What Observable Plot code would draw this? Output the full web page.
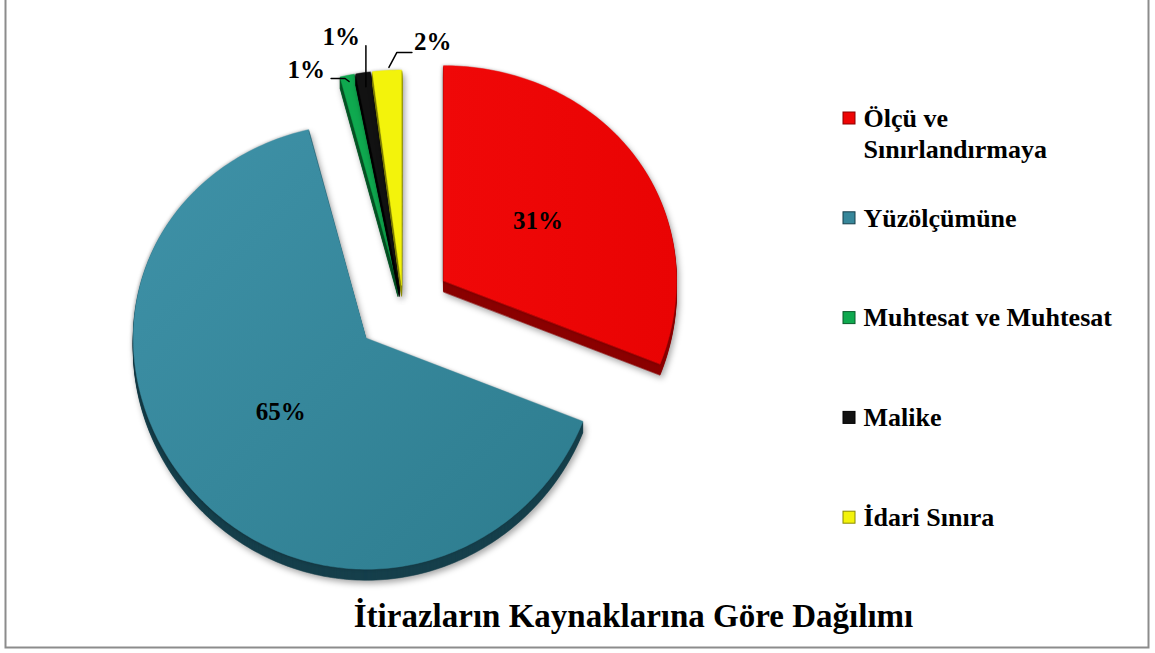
<!DOCTYPE html>
<html><head><meta charset="utf-8">
<script src="https://cdn.jsdelivr.net/npm/d3@7"></script>
<script src="https://cdn.jsdelivr.net/npm/@observablehq/plot@0.6"></script>
<style>
body{margin:0;background:#fff;}
#chart svg{display:block;}
g[aria-description="slice-side"]{filter:drop-shadow(2px 3px 3px rgba(0,0,0,0.35));}
g[aria-description="slice-top"]{filter:drop-shadow(-1px 0px 1.5px rgba(0,0,0,0.25));}
</style>
</head><body><div id="chart"></div>
<script>
// ---- data ----
const categories = ["Ölçü ve Sınırlandırmaya", "Yüzölçümüne", "Muhtesat ve Muhtesat", "Malike", "İdari Sınıra"];
const shares = [31, 65, 1, 1, 2];
const pctLabels = ["31%", "65%", "1%", "1%", "2%"];
const colors = ["#ee0505", "#37879a", "#0fa94f", "#121212", "#f3f30b"];
const sideColors = ["#8b0000", "#163f4b", "#085c2a", "#000000", "#8a8a00"];
const explode = [0.21, 0.21, 0.10, 0.10, 0.10];
const title = "İtirazların Kaynaklarına Göre Dağılımı";

// ---- layout ----
const W = 1155, H = 653;
const pie = {cx: 402.5, cy: 306, rx: 233, ryMid: 223, ryPersp: 8, depth: 11};
const font = "Liberation Serif, Times New Roman, serif";
const ryAt = a => pie.ryMid - pie.ryPersp * Math.cos(a);

const total = d3.sum(shares);
let acc = 0;
const slices = shares.map((v, i) => {
  const a0 = acc / total * 2 * Math.PI; acc += v;
  const a1 = acc / total * 2 * Math.PI;
  const mid = (a0 + a1) / 2;
  const ax = pie.cx + explode[i] * pie.rx * Math.sin(mid);
  const ay = pie.cy - explode[i] * ryAt(mid) * Math.cos(mid);
  return {i, a0, a1, mid, ax, ay};
});
const px = (s, a, f = 1) => s.ax + f * pie.rx * Math.sin(a);
const py = (s, a, f = 1) => s.ay - f * ryAt(a) * Math.cos(a);
function ring(s, dy, z) {
  const pts = [{x: s.ax, y: s.ay + dy, z}];
  const n = Math.max(2, Math.ceil((s.a1 - s.a0) / (Math.PI / 180)));
  for (let k = 0; k <= n; k++) {
    const a = s.a0 + (s.a1 - s.a0) * k / n;
    pts.push({x: px(s, a), y: py(s, a) + dy, z});
  }
  return pts;
}
const topFill = ["url(#gRed)", "url(#gTeal)", colors[2], colors[3], colors[4]];
const drawOrder = [2, 3, 4, 0, 1];
const pieMarks = [];
for (const i of drawOrder) {
  const s = slices[i];
  const sides = [];
  for (let k = pie.depth; k >= 1; k--) sides.push(...ring(s, k, k));
  pieMarks.push(Plot.line(sides, {x: "x", y: "y", z: "z", fill: sideColors[i], stroke: sideColors[i], strokeWidth: 0.6, curve: "linear-closed", ariaDescription: "slice-side"}));
  pieMarks.push(Plot.line(ring(s, 0, 0), {x: "x", y: "y", fill: topFill[i], stroke: topFill[i], strokeWidth: 0.5, curve: "linear-closed", ariaDescription: "slice-top"}));
}

// inside labels for large slices
const inner = slices.filter(s => shares[s.i] >= 10).map(s => ({
  x: px(s, s.mid, 0.49), y: py(s, s.mid, 0.49), t: pctLabels[s.i]
}));
// outside labels for small slices (leader offsets relative to outer edge point)
const leaderLayout = {
  2: {pts: [[2, 6], [-2, 3], [-16, 3]], lab: [-22, -5], anchor: "end"},
  3: {pts: [[3, 14], [3, -27]], lab: [-3, -36], anchor: "end"},
  4: {pts: [[2, -3], [10, -18], [25, -18]], lab: [27, -28], anchor: "start"}
};
const leaders = [], outer = [];
slices.filter(s => shares[s.i] < 10).forEach(s => {
  const ox = px(s, s.mid), oy = py(s, s.mid);
  const L = leaderLayout[s.i];
  L.pts.forEach(([dx, dy]) => leaders.push({x: ox + dx, y: oy + dy, z: s.i}));
  outer.push({x: ox + L.lab[0], y: oy + L.lab[1], t: pctLabels[s.i], anchor: L.anchor});
});

// legend
const legX = 843, legSize = 12, legTextX = 863, legY0 = 118, legStep = 99.8, legLine = 31;
function wrap(name, max) {
  const words = name.split(" "), lines = [];
  let cur = "";
  for (const w of words) {
    if (cur && (cur + " " + w).length > max) { lines.push(cur); cur = w; }
    else cur = cur ? cur + " " + w : w;
  }
  lines.push(cur);
  return lines;
}
const legRows = categories.map((c, i) => ({c, i, y: legY0 + i * legStep, color: colors[i], side: sideColors[i]}));
const legText = legRows.flatMap(r => wrap(r.c, 20).map((t, j) => ({t, y: r.y + j * legLine})));

const labelStyle = {x: "x", y: "y", text: "t", fontSize: 25, fontWeight: "bold", fontFamily: font, fill: "#000"};
const chart = Plot.plot({
  width: W, height: H,
  margin: 0,
  x: {domain: [0, W], range: [0, W], axis: null},
  y: {domain: [0, H], range: [0, H], axis: null},
  style: {background: "#fff", fontFamily: font},
  marks: [
    Plot.frame({stroke: "#8c8c8c", strokeWidth: 2, insetLeft: 5, insetRight: 7, insetTop: -3, insetBottom: 6}),
    ...pieMarks,
    Plot.text(inner, labelStyle),
    Plot.line(leaders, {x: "x", y: "y", z: "z", stroke: "#000", strokeWidth: 1.5}),
    Plot.text(outer.filter(d => d.anchor === "end"), {...labelStyle, textAnchor: "end"}),
    Plot.text(outer.filter(d => d.anchor === "start"), {...labelStyle, textAnchor: "start"}),
    Plot.rect(legRows, {x1: () => legX, x2: () => legX + legSize, y1: d => d.y - legSize / 2, y2: d => d.y + legSize / 2, fill: "color", stroke: "side", strokeWidth: 1}),
    Plot.text(legText, {x: () => legTextX, y: "y", text: "t", textAnchor: "start", fontSize: 26, fontWeight: "bold", fontFamily: font, fill: "#000"}),
    Plot.text([title], {x: () => 633, y: () => 616, text: d => d, fontSize: 33, fontWeight: "bold", fontFamily: font, fill: "#000"})
  ]
});

const svg = d3.select(chart);
svg.insert("defs", ":first-child").html(`
  <linearGradient id="gTeal" x1="0" y1="0" x2="1" y2="1">
    <stop offset="0" stop-color="#3f92a8"/>
    <stop offset="1" stop-color="#2d7c8e"/>
  </linearGradient>
  <linearGradient id="gRed" x1="0" y1="0" x2="1" y2="0">
    <stop offset="0" stop-color="#f00808"/>
    <stop offset="1" stop-color="#e90303"/>
  </linearGradient>`);
document.getElementById("chart").appendChild(chart);
</script>
</body></html>
